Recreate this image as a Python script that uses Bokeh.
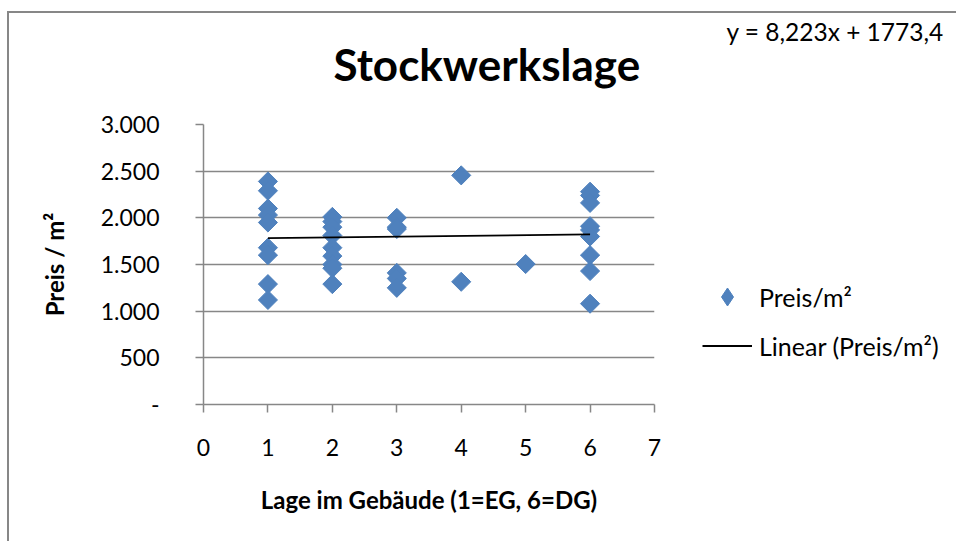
import numpy as np
from bokeh.plotting import figure
from bokeh.models import (Range1d, FixedTicker, Legend, LegendItem, Title, ColumnDataSource)
from bokeh.embed import file_html
from bokeh.resources import INLINE

# ---- data ----
lage = [1, 1, 1, 1, 1, 1, 1, 1, 1,
        2, 2, 2, 2, 2, 2, 2, 2, 2,
        3, 3, 3, 3, 3, 3,
        4, 4,
        5,
        6, 6, 6, 6, 6, 6, 6, 6, 6]
preis = [2390, 2290, 2100, 2030, 1950, 1680, 1600, 1290, 1120,
         2010, 1960, 1900, 1810, 1680, 1590, 1500, 1460, 1290,
         2000, 1900, 1880, 1410, 1350, 1250,
         2455, 1315,
         1505,
         2280, 2240, 2160, 1910, 1870, 1800, 1600, 1430, 1080]
trend_slope = 8.223
trend_intercept = 1773.4
trend_x = [1, 6]
y_ticks = [0, 500, 1000, 1500, 2000, 2500, 3000]
y_tick_labels = ["-", "500", "1.000", "1.500", "2.000", "2.500", "3.000"]
x_ticks = [0, 1, 2, 3, 4, 5, 6, 7]
title_text = "Stockwerkslage"
equation_text = "y = 8,223x + 1773,4"
x_label = "Lage im Gebäude (1=EG, 6=DG)"
y_label = "Preis / m²"
series_label = "Preis/m²"
trend_label = "Linear (Preis/m²)"

FONT = "Lato"
GRAY = "#878787"
BLUE = "#4F81BD"

p = figure(output_backend="svg", toolbar_location=None, title_location=None,
           frame_width=451, frame_height=280,
           min_border_left=203, min_border_top=124,
           min_border_right=300, min_border_bottom=137,
           x_range=Range1d(0, 7), y_range=Range1d(0, 3000))
# chart-area frame lines (top and left edge) drawn behind a transparent border area
p.styles = {"background": (f"linear-gradient({GRAY},{GRAY}) 7px 11px / 2px calc(100% - 11px) no-repeat, "
                           f"linear-gradient({GRAY},{GRAY}) 7px 11px / calc(100% - 7px) 2px no-repeat, "
                           "#ffffff")}
p.border_fill_alpha = 0
p.outline_line_color = None
p.background_fill_color = "white"

src = ColumnDataSource(dict(x=lage, y=preis))
# same points drawn as (smaller) diamonds underneath the markers: gives the legend its diamond symbol
legend_marker = p.scatter("x", "y", source=src, marker="diamond", size=15,
                          fill_color=BLUE, line_color=BLUE)
sc = p.scatter("x", "y", source=src, marker="square", size=13.5, angle=np.pi / 4,
               fill_color=BLUE, line_color=BLUE)
ty = [trend_slope * v + trend_intercept for v in trend_x]
ln = p.line(trend_x, ty, line_color="black", line_width=1.8)

# axes
for ax in (p.xaxis[0], p.yaxis[0]):
    ax.axis_line_color = GRAY
    ax.axis_line_width = 1.5
    ax.major_tick_line_color = GRAY
    ax.major_tick_line_width = 1.5
    ax.major_tick_out = 8
    ax.major_tick_in = 0
    ax.minor_tick_line_color = None
    ax.major_label_text_font = FONT
    ax.major_label_text_font_size = "23px"
    ax.major_label_text_color = "black"
    ax.axis_label_text_font = FONT
    ax.axis_label_text_font_size = "24px"
    ax.axis_label_text_font_style = "bold"
    ax.axis_label_text_color = "black"

p.xaxis.ticker = FixedTicker(ticks=x_ticks)
p.yaxis.ticker = FixedTicker(ticks=y_ticks)
p.yaxis.major_label_overrides = {t: l for t, l in zip(y_ticks, y_tick_labels)}
p.xaxis.axis_label = x_label
p.yaxis.axis_label = y_label
p.xaxis.major_label_standoff = 26
p.xaxis.axis_label_standoff = 26
p.yaxis.major_label_standoff = 36
p.yaxis.axis_label_standoff = 29

p.xgrid.grid_line_color = None
p.ygrid.grid_line_color = GRAY
p.ygrid.grid_line_width = 1.5
p.ygrid.ticker = FixedTicker(ticks=y_ticks)

# chart title
p.add_layout(Title(text=title_text, align="left", offset=130, standoff=69,
                   text_font=FONT, text_font_size="44px", text_font_style="bold",
                   text_color="black"), "above")

# legend, with the trend-line equation as its title (top right of the chart)
legend = Legend(items=[LegendItem(label=series_label, renderers=[legend_marker]),
                       LegendItem(label=trend_label, renderers=[ln])],
                location=(48, 36), padding=0, margin=0, spacing=4,
                glyph_width=50, glyph_height=45, label_height=20, label_standoff=7,
                label_text_font=FONT, label_text_font_size="25px",
                label_text_color="black", border_line_color=None,
                background_fill_alpha=0,
                title="\u00a0" * 4 + equation_text, title_standoff=228,
                title_text_font=FONT, title_text_font_size="24.5px",
                title_text_font_style="normal", title_text_color="black")
p.add_layout(legend, "right")

open("out.html", "w").write(file_html(p, INLINE))
